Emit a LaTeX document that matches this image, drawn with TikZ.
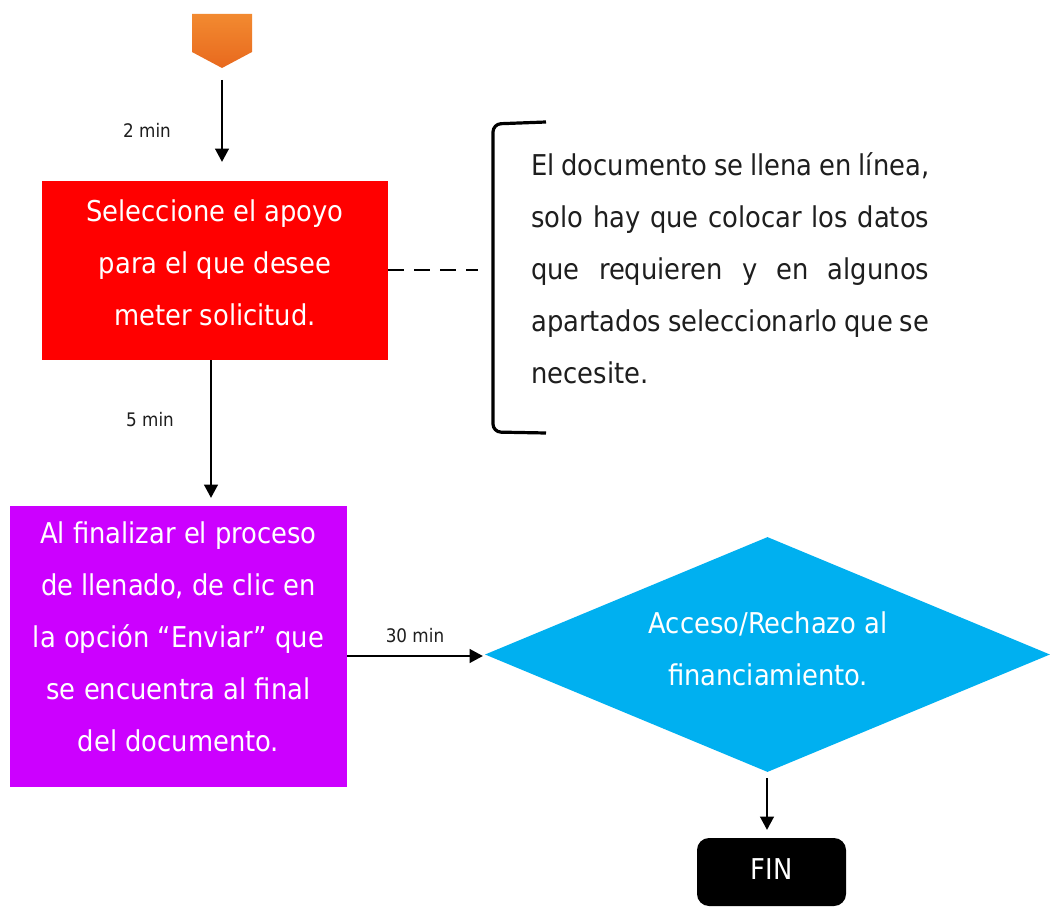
\documentclass[tikz,border=0pt]{standalone}
\usepackage{fontspec}
\setmainfont{DejaVu Sans Condensed}
\usetikzlibrary{shapes.geometric,arrows.meta}
\definecolor{orangeA}{HTML}{F28A30}
\definecolor{orangeB}{HTML}{E8691E}
\definecolor{boxred}{HTML}{FF0000}
\definecolor{boxpurple}{HTML}{CC00FF}
\definecolor{diamblue}{HTML}{00B0F0}
\definecolor{txtgray}{HTML}{1E1E1E}
\tikzset{
  flow/.style={line width=2.2pt,-{Triangle[length=10pt,width=10pt]}},
  boxtext/.style={font=\fontsize{21.5}{39}\selectfont, text=white, align=center},
  small/.style={font=\fontsize{14}{16}\selectfont, text=txtgray},
}
\begin{document}
\begin{tikzpicture}[x=0.75pt,y=-0.75pt]
\useasboundingbox (0,0) rectangle (1054,909);
\fill[white] (0,0) rectangle (1054,909);
% off-page connector
\shade[top color=orangeA,bottom color=orangeB] (192,14) -- (252,14) -- (252,52) -- (222,68) -- (192,52) -- cycle;
\coordinate (startc) at (222,80);
\node[fill=boxred, minimum width=259.5pt, minimum height=134.25pt, inner sep=0pt] (red) at (215,270.5) {};
\node[boxtext] (redt) at ([yshift=5.5pt]red.center) {Seleccione el apoyo\\para el que desee\\meter solicitud.};
\node[fill=boxpurple, minimum width=252.75pt, minimum height=210.75pt, inner sep=0pt] (purple) at (178.5,646.5) {};
\node[boxtext] (purt) at ([yshift=7pt]purple.center) {Al finalizar el proceso\\de llenado, de clic en\\la opción “Enviar” que\\se encuentra al final\\del documento.};
\node[diamond, fill=diamblue, minimum width=423.75pt, minimum height=176.25pt, inner sep=0pt, aspect=2.4] (dia) at (767.5,654.5) {};
\node[boxtext] (diat) at (768,649) {Acceso/Rechazo al\\financiamiento.};
\node[fill=black, rounded corners=9pt, minimum width=111.75pt, minimum height=51pt, inner sep=0pt] (fin) at (771.5,872) {};
\node[boxtext] (fint) at ([yshift=2.5pt]fin.center) {FIN};
% connectors
\draw[flow] (startc) -- (222,162) coordinate (redtop);
\node[small] (l2) at (147,130) {2 min};
\draw[flow] (red.south -| 211,0) -- (211,498) coordinate (purtop);
\node[small] (l5) at (150,420) {5 min};
\draw[flow] (purple.east |- 0,656) -- (483,656) coordinate (diaL);
\node[small] (l30) at (415,636) {30 min};
\draw[flow] (767,778) coordinate (diaB) -- (767,830) coordinate (fintop);
% annotation
\draw[line width=2.2pt, dash pattern=on 12pt off 7.5pt] (red.east |- 0,270) -- (478,270) coordinate (annL);
\draw[line width=2.4pt, rounded corners=6pt] (546,122) -- (493,124) -- (493,432) -- (546,433);
\node[text=txtgray, text width=298.5pt, align=justify, font=\fontsize{21.5}{39}\selectfont, inner sep=0pt, anchor=north west] (note) at (531,152) {\hyphenpenalty=10000 El documento se llena en línea,\linebreak solo hay que colocar los datos\linebreak que requieren y en algunos\linebreak apartados seleccionarlo que se\linebreak necesite.};
\end{tikzpicture}
\end{document}
